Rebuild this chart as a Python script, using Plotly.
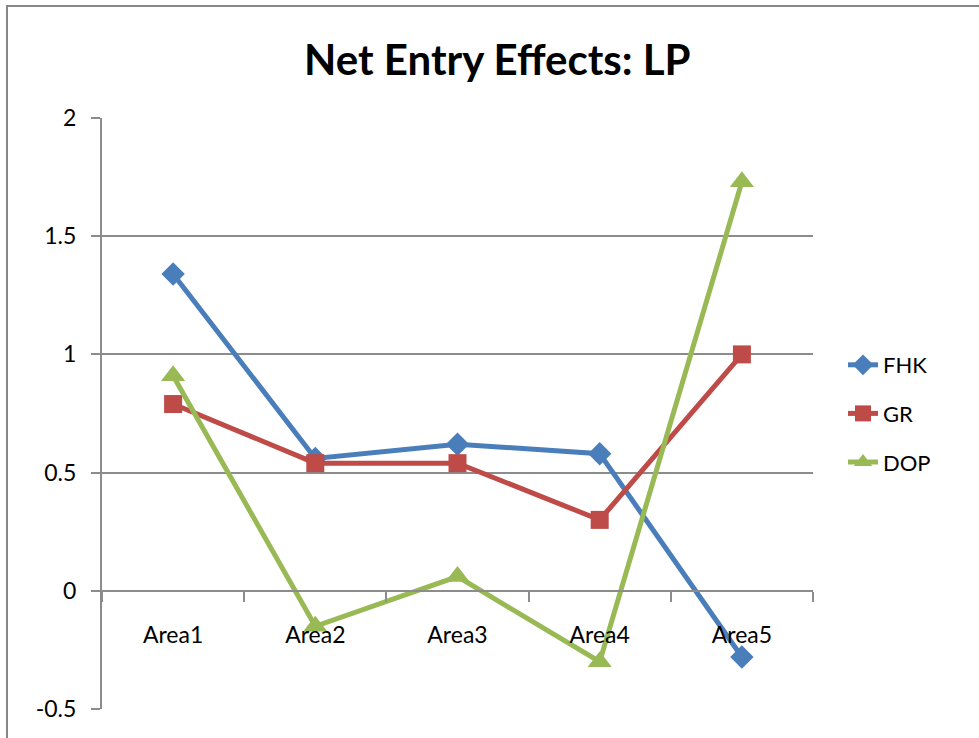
import plotly.graph_objects as go

# Net entry effects by area for three estimators
areas = ["Area1", "Area2", "Area3", "Area4", "Area5"]
fhk = [1.34, 0.56, 0.62, 0.58, -0.28]
gr = [0.79, 0.54, 0.54, 0.30, 1.00]
dop = [0.91, -0.15, 0.06, -0.30, 1.73]
y_ticks = [-0.5, 0, 0.5, 1, 1.5, 2]
y_tick_text = ["-0.5", "0", "0.5", "1", "1.5", "2"]

series = [
    ("FHK", fhk, "#4A7EBB", "diamond", 18),
    ("GR", gr, "#BE4B48", "square", 18),
    ("DOP", dop, "#98B954", "triangle-up", 21),
]

W, H = 979, 738
L, R, T, B = 102, 166, 118, 29

fig = go.Figure()
for name, vals, color, sym, size in series:
    fig.add_trace(go.Scatter(
        x=areas, y=vals, name=name, mode="lines+markers",
        legendgroup=name,
        line=dict(color=color, width=5),
        marker=dict(symbol=sym, size=size, color=color),
    ))

font_family = "Lato, Carlito, 'Open Sans', sans-serif"
y_lo, y_hi = -0.5, 2.0
zero_pos = (0 - y_lo) / (y_hi - y_lo)

fig.update_layout(
    width=W, height=H,
    margin=dict(l=L, r=R, t=T, b=B),
    paper_bgcolor="white", plot_bgcolor="white",
    font=dict(family=font_family, size=22, color="black"),
    title=dict(text="<b>Net Entry Effects: LP</b>", x=0.508, xanchor="center",
               y=1 - 60 / H, yanchor="middle", font=dict(size=42, color="black")),
    legend=dict(x=(843 - L) / (W - L - R), xanchor="left",
                y=(H - B - 344) / (H - T - B), yanchor="top",
                font=dict(size=22), tracegroupgap=17, bgcolor="rgba(0,0,0,0)"),
    xaxis=dict(
        type="category", range=[-0.5, 4.5],
        anchor="free", position=zero_pos,
        showline=True, linecolor="#8C8C8C", linewidth=2,
        ticks="outside", ticklen=10, tickwidth=2, tickcolor="#8C8C8C",
        tickson="boundaries", showgrid=False, ticklabelstandoff=24,
        tickfont=dict(size=23),
    ),
    yaxis=dict(
        range=[y_lo, y_hi], tickvals=y_ticks, ticktext=y_tick_text,
        showgrid=True, gridcolor="#8C8C8C", gridwidth=2,
        showline=True, linecolor="#8C8C8C", linewidth=2,
        ticks="outside", ticklen=9, tickwidth=2, tickcolor="#8C8C8C",
        zeroline=False, ticklabelstandoff=10,
        tickfont=dict(size=23),
    ),
    shapes=[dict(
        type="rect", xref="paper", yref="paper",
        x0=(7 - L) / (W - L - R), x1=1.4,
        y0=-0.2, y1=1 + (T - 6) / (H - T - B),
        line=dict(color="#878787", width=2), fillcolor="rgba(0,0,0,0)",
        layer="below",
    )],
)

fig.write_html("out.html")
